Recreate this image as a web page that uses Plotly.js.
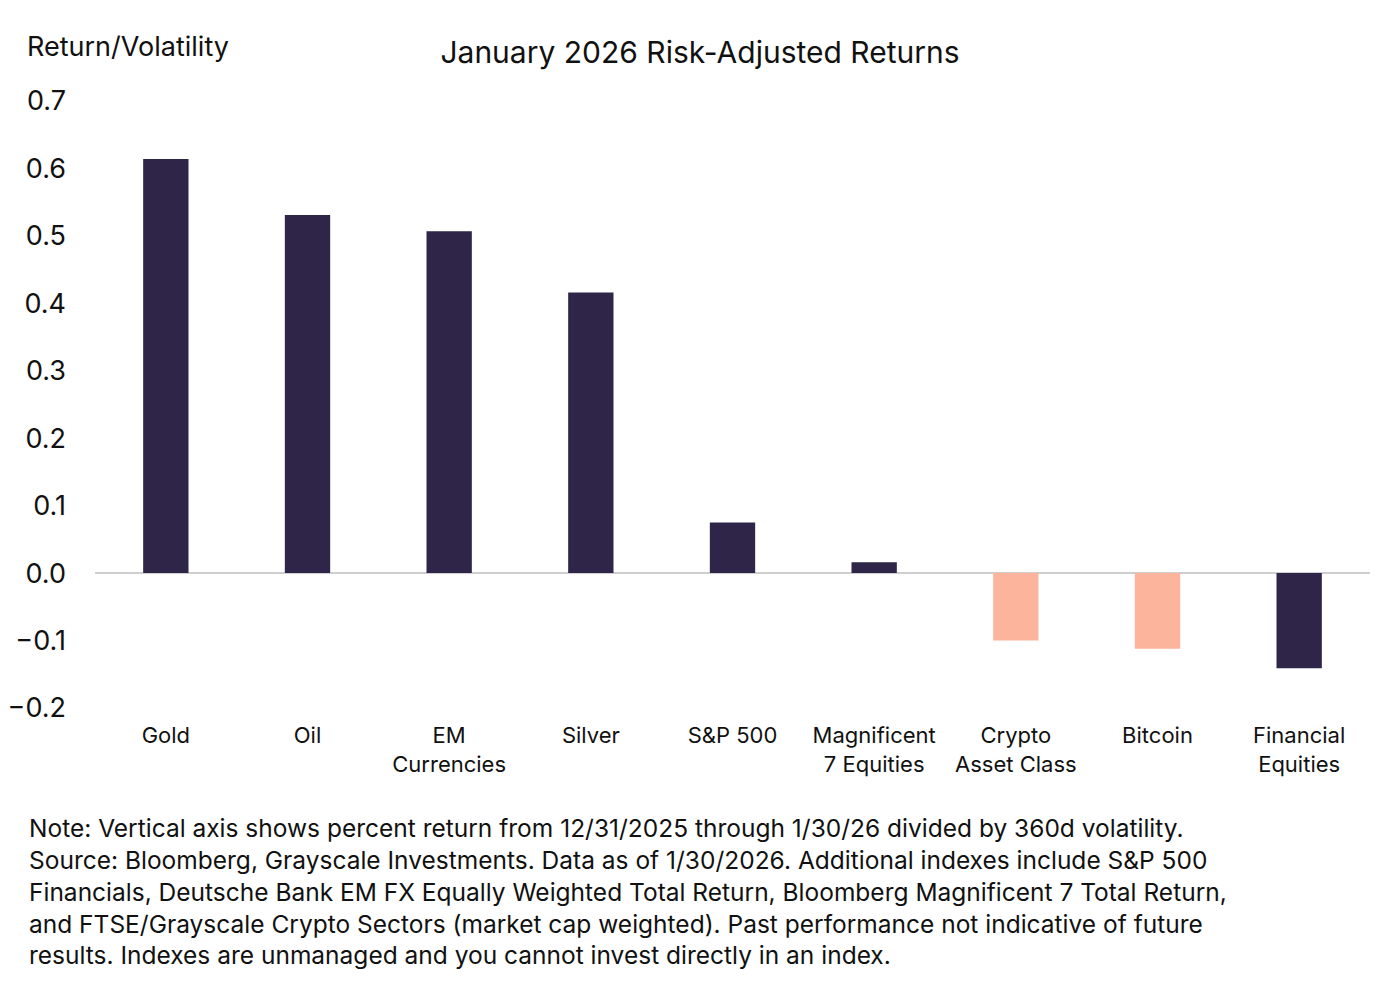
<!DOCTYPE html>
<html>
<head>
<meta charset="utf-8">
<script src="https://cdn.plot.ly/plotly-3.0.1.min.js"></script>
<style>body{margin:0;background:#fff}#chart{width:1400px;height:1003px}</style>
</head>
<body>
<div id="chart"></div>
<script>
// categories and values
var categories = ['Gold', 'Oil', 'EM<br>Currencies', 'Silver', 'S&P 500',
  'Magnificent<br>7 Equities', 'Crypto<br>Asset Class', 'Bitcoin', 'Financial<br>Equities'];
var riskAdjusted = [0.614, 0.531, 0.507, 0.416, 0.075, 0.016, -0.100, -0.112, -0.141];
var isCrypto = [false, false, false, false, false, false, true, true, false];

var dark = '#2e2549';
var salmon = '#fdb49c';
var font = 'Inter, "Noto Sans", sans-serif';

var trace = {
  x: categories,
  y: riskAdjusted,
  type: 'bar',
  marker: {color: isCrypto.map(function (c) { return c ? salmon : dark; })},
  hoverinfo: 'x+y'
};

var note = 'Note: Vertical axis shows percent return from 12/31/2025 through 1/30/26 divided by 360d volatility.<br>' +
  'Source: Bloomberg, Grayscale Investments. Data as of 1/30/2026. Additional indexes include S&P 500<br>' +
  'Financials, Deutsche Bank EM FX Equally Weighted Total Return, Bloomberg Magnificent 7 Total Return,<br>' +
  'and FTSE/Grayscale Crypto Sectors (market cap weighted). Past performance not indicative of future<br>' +
  'results. Indexes are unmanaged and you cannot invest directly in an index.';

var layout = {
  width: 1400, height: 1003,
  margin: {l: 95, r: 30, t: 101, b: 295},
  paper_bgcolor: '#fff', plot_bgcolor: '#fff',
  font: {family: font, color: '#111'},
  bargap: 0.68,
  showlegend: false,
  title: {text: 'January 2026 Risk-Adjusted Returns', x: 0.5, xanchor: 'center', y: 0.948, yanchor: 'middle',
    font: {size: 30, family: font, color: '#111'}},
  xaxis: {tickfont: {size: 22}, showline: false, ticks: '', ticklabelstandoff: 12},
  yaxis: {range: [-0.2, 0.7], dtick: 0.1, tickformat: '.1f', showgrid: false,
    zeroline: true, zerolinecolor: '#cfcfcf', zerolinewidth: 2,
    tickfont: {size: 27}, ticklabelstandoff: 28},
  annotations: [
    {text: 'Return/Volatility', xref: 'paper', yref: 'paper', x: -0.055, y: 1.09,
      xanchor: 'left', yanchor: 'middle', showarrow: false, font: {size: 27}},
    {text: note, xref: 'paper', yref: 'paper', x: -0.053, y: -0.17, xanchor: 'left', yanchor: 'top',
      align: 'left', showarrow: false, font: {size: 24.5}}
  ]
};

Plotly.newPlot('chart', [trace], layout, {displayModeBar: false});
</script>
</body>
</html>
